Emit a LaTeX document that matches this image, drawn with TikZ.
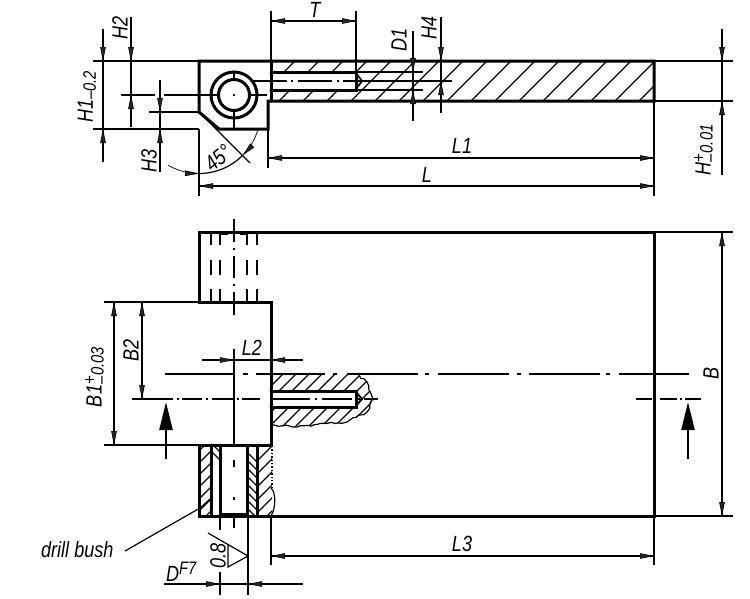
\documentclass[tikz,border=0pt]{standalone}
\usepackage{fontspec}
\setmainfont[ItalicFeatures={FakeStretch=0.82}]{Liberation Sans}
\usetikzlibrary{arrows.meta,decorations.pathmorphing}
\tikzset{
  thick line/.style={line width=3pt,line cap=round,line join=miter},
  thin line/.style={line width=1.2pt},
  hatch line/.style={line width=1.1pt},
  center thin/.style={line width=1.2pt},
  tiparrow/.style={line width=0.7pt,-{Triangle[length=14pt,width=5.5pt,fill=black!85]}},
  label/.style={inner sep=0pt,font=\fontsize{22}{22}\selectfont\itshape},
  labelv/.style={label,rotate=90},
  secthick/.style={line width=2.8pt},
  secarrow/.style={line width=2.4pt}
}
\newcommand\tipD[2]{\draw[tiparrow] (#1,#2-14)--(#1,#2);}
\newcommand\tipU[2]{\draw[tiparrow] (#1,#2+14)--(#1,#2);}
\newcommand\tipR[2]{\draw[tiparrow] (#1-14,#2)--(#1,#2);}
\newcommand\tipL[2]{\draw[tiparrow] (#1+14,#2)--(#1,#2);}
\begin{document}
\begin{tikzpicture}[x=1pt,y=-1pt]
\useasboundingbox (0,0) rectangle (750,598);
\fill[white] (0,0) rectangle (750,598);

%%% TOP VIEW
\begin{scope}
  \clip (271,61) rectangle (654,101);
  \foreach \c in {356,380,...,760} \draw[hatch line] (\c-61,61)--(\c-101,101);
\end{scope}
\fill[white] (271,72) rectangle (356,90);
\draw[thick line] (199,61)--(654,61)--(654,101)--(268,101)--(268,129)--(219,129)--(199,112)--cycle;
\draw[thick line] (271,61)--(271,101);
\draw[thick line] (271,72)--(356,72)--(356,90)--(271,90);
\draw[line width=1.8pt] (356,73)--(362,81)--(356,89);
\draw[thick line] (234,95) circle (23);
\draw[thick line] (234,95) circle (15.5);
\fill (234,95) circle (1.3);
\draw[thin line] (234,71)--(234,79) (234,111)--(234,129);
\draw[thin line] (121,95)--(155,95) (164,95)--(218,95) (250,95)--(267,95);
\draw[thin line] (253,81)--(287,81) (291,81)--(293,81) (298,81)--(332,81) (337,81)--(339,81) (343,81)--(452,81);
\draw[thin line] (356,72)--(423,72) (356,90)--(423,90);
% extension lines
\draw[thin line] (93,61)--(199,61) (93,129)--(199,129) (149,112)--(199,112);
\draw[thin line] (271,11)--(271,61) (356,11)--(356,72);
\draw[thin line] (268,101)--(268,168) (654,61)--(654,196) (199,129)--(199,196);
\draw[thin line] (654,61)--(733,61) (654,101)--(733,101);
\draw[thin line] (199,112)--(250,163);
% dimensions
\draw[thin line] (103,29)--(103,162); \tipD{103}{61} \tipU{103}{129}
\draw[thin line] (131,17)--(131,127); \tipD{131}{61} \tipU{131}{95}
\draw[thin line] (160,80)--(160,172); \tipD{160}{112} \tipU{160}{129}
\draw[thin line] (271,21)--(356,21); \tipL{271}{21} \tipR{356}{21}
\draw[thin line] (413,31)--(413,121); \tipD{413}{72} \tipU{413}{90}
\draw[thin line] (441,17)--(441,113); \tipD{441}{61} \tipU{441}{81}
\draw[thin line] (268,158)--(654,158); \tipL{268}{158} \tipR{654}{158}
\draw[thin line] (199,186)--(654,186); \tipL{199}{186} \tipR{654}{186}
\draw[thin line] (722,29)--(722,175); \tipD{722}{61} \tipU{722}{101}
% angle
\draw[thin line,domain=45:90,samples=20] plot ({199+61.5*cos(\x)},{112+61.5*sin(\x)});
\draw[tiparrow,domain=120:90,samples=20] plot ({199+61.5*cos(\x)},{112+61.5*sin(\x)});
\draw[tiparrow,domain=17:45,samples=20] plot ({199+61.5*cos(\x)},{112+61.5*sin(\x)});
% labels
\node[labelv] (h1) at (87,97) {H1\raisebox{-3pt}{\fontsize{18}{18}\selectfont –0.2}};
\node[labelv] (h2) at (120,28) {H2};
\node[labelv] (h3) at (149,161) {H3};
\node[label,rotate=40] (a45) at (218,158) {45°};
\node[label] (t) at (315,10) {T};
\node[labelv] (d1) at (399,40) {D1};
\node[labelv] (h4) at (429,28) {H4};
\node[label] (l1) at (462,146) {L1};
\node[label] (l) at (427,175) {L};
\node[labelv] (h) at (705,150) {H\raisebox{-2pt}{\fontsize{18}{18}\selectfont\rlap{\raisebox{8pt}{+}}\raisebox{-3pt}{–}\kern1pt 0.01}};

%%% FRONT VIEW
\begin{scope}
  \clip (271,374)--(357,374)--(367,382)--(373,399)--(367,412)--(347,422)--(293,427)--(271,425)--cycle;
  \foreach \c in {657,670,...,790} \draw[hatch line] (\c-374,374)--(\c-430,430);
\end{scope}
\fill[white] (271,391) rectangle (356,407);
\pgfmathsetseed{7}
\draw[thin line,decorate,decoration={random steps,segment length=3.5pt,amplitude=1.2pt}]
  (271,425)--(293,427)--(347,422)--(367,412)--(373,399)--(367,382)--(357,374);
\draw[thick line] (271,391)--(356,391)--(356,407)--(271,407);
\draw[line width=1.8pt] (356,392)--(362,399)--(356,406);
% bush hatching
\begin{scope}
  \clip (199,445) rectangle (211,516);
  \foreach \c in {650,662,...,740} \draw[hatch line] (\c-445,445)--(\c-516,516);
\end{scope}
\begin{scope}
  \clip (211,445) rectangle (220,516);
  \foreach \c in {-240,-232,...,-290} \draw[hatch line] (\c+445,445)--(\c+516,516);
\end{scope}
\begin{scope}
  \clip (247,445) rectangle (257,516);
  \foreach \c in {-205,-213,...,-270} \draw[hatch line] (\c+445,445)--(\c+516,516);
\end{scope}
\begin{scope}
  \clip (257,445) rectangle (272,516);
  \foreach \c in {705,718,...,790} \draw[hatch line] (\c-445,445)--(\c-516,516);
\end{scope}
% outline
\draw[thick line] (199,232)--(654,232)--(654,516)--(199,516)--(199,445)--(271,445)--(271,302)--(199,302)--cycle;
\draw[thick line] (211,445)--(211,516) (220,445)--(220,516) (247,445)--(247,516) (257,445)--(257,516);
\draw[line width=3pt] (220,514)--(247,514);
\draw[line width=1.4pt,dotted] (272,446)--(272,490);
\draw[thin line] (271,488) .. controls (276,492) and (276,508) .. (271,516);
% hidden bore
\foreach \x in {211,220,247,257}
  \draw[thin line] (\x,233)--(\x,245) (\x,260)--(\x,275) (\x,289)--(\x,302);
\draw[thin line] (220,234)--(228,234) (240,234)--(247,234);
% centre lines
\draw[center thin] (234,219)--(234,242) (234,248)--(234,250) (234,256)--(234,278) (234,284)--(234,286) (234,292)--(234,315);
\draw[center thin] (234,349)--(234,445) (234,460)--(234,467) (234,497)--(234,500) (234,516)--(234,528);
\draw[center thin] (165,374)--(235,374) (243,374)--(248,374) (256,374)--(325,374) (333,374)--(337,374) (347,374)--(418,374) (425,374)--(429,374) (438,374)--(509,374) (517,374)--(521,374) (529,374)--(600,374) (606,374)--(610,374) (619,374)--(689,374);
% section line
\draw[thin line] (132,399)--(153,399);
\draw[secthick] (153,399)--(173,399) (177,399)--(179,399) (182,399)--(202,399) (206,399)--(208,399) (212,399)--(233,399) (237,399)--(239,399) (242,399)--(260,399);
\draw[center thin] (273,399)--(310,399) (315,399)--(317,399) (322,399)--(352,399) (358,399)--(360,399) (364,399)--(378,399);
\draw[secthick] (636,399)--(652,399) (660,399)--(677,399) (680,399)--(682,399) (685,399)--(701,399);
\draw[secarrow,-{Triangle[length=28pt,width=13pt]}] (166,459)--(166,402);
\draw[secarrow,-{Triangle[length=28pt,width=13pt]}] (688,459)--(688,402);
% extension lines
\draw[thin line] (654,232)--(733,232) (654,516)--(733,516) (654,516)--(654,565);
\draw[thin line] (104,302)--(199,302) (104,445)--(199,445);
\draw[thin line] (271,516)--(271,565);
\draw[thin line] (220,516)--(220,530) (220,572)--(220,595) (248,516)--(248,595);
% dimensions
\draw[thin line] (722,232)--(722,516); \tipU{722}{232} \tipD{722}{516}
\draw[thin line] (114,302)--(114,445); \tipU{114}{302} \tipD{114}{445}
\draw[thin line] (142,302)--(142,399); \tipU{142}{302} \tipD{142}{399}
\draw[thin line] (202,360)--(303,360); \tipR{234}{360} \tipL{271}{360}
\draw[thin line] (271,556)--(654,556); \tipL{271}{556} \tipR{654}{556}
\draw[thin line] (164,584)--(303,584); \tipR{220}{584} \tipL{248}{584}
% surface symbol
\draw[thin line] (208,533)--(248,556)--(228,567)--(228,545);
% labels
\node[labelv] (b) at (711,373) {B};
\node[labelv] (b1) at (96,377) {B1\raisebox{-2pt}{\fontsize{18}{18}\selectfont\rlap{\raisebox{8pt}{+}}\raisebox{-3pt}{–}\kern1pt 0.03}};
\node[labelv] (b2) at (131,350) {B2};
\node[label] (l2) at (252,348) {L2};
\node[label] (l3) at (462,544) {L3};
\node[labelv] (r08) at (218,556) {0.8};
\node[label,anchor=west] (df7) at (166,572) {D\raisebox{7pt}{\fontsize{18}{18}\selectfont F7}};
\node[label,anchor=west] (bush) at (41,550) {drill bush};
\draw[thin line] (125,551) coordinate (lead) -- (200,508);
\draw[hatch line] (200,508)--(210,499);
\end{tikzpicture}
\end{document}
